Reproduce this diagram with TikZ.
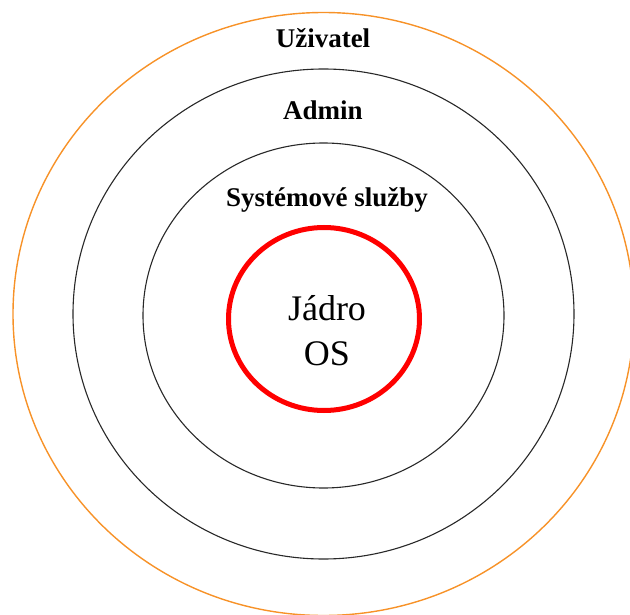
\documentclass[tikz,border=0pt]{standalone}
\usepackage{fontspec}
\setmainfont{Liberation Serif}
\definecolor{ringorange}{RGB}{247,146,40}
\definecolor{ringgray}{RGB}{40,40,40}
\begin{document}
\begin{tikzpicture}[x=1pt,y=-1pt,
  ring/.style={draw=ringgray,line width=1.1pt},
  layerlabel/.style={font=\fontsize{27}{30}\selectfont\bfseries,anchor=base,inner sep=0pt},
  corelabel/.style={font=\fontsize{36}{45}\selectfont,align=center,inner sep=0pt}]
\useasboundingbox (0,0) rectangle (630,615);
\clip (0,0) rectangle (630,615);
\coordinate (c) at (323.5,314);
\draw[draw=ringorange,line width=1.4pt] (c) ellipse [x radius=310.5pt,y radius=301.5pt];
\draw[ring] (c) ellipse [x radius=250.5pt,y radius=245pt];
\draw[ring] (323.5,315.5) ellipse [x radius=180.5pt,y radius=172.5pt];
\draw[draw=red,line width=5pt] (324,319) ellipse [x radius=95.5pt,y radius=91.5pt];
\node[layerlabel] (uziv) at (323,48) {Uživatel};
\node[layerlabel] (admin) at (323,120) {Admin};
\node[layerlabel] (sys) at (327,207) {Systémové služby};
\node[corelabel,anchor=base] (jadro) at (327,320) {Jádro};
\node[corelabel,anchor=base] (os) at (327,365) {OS};
\end{tikzpicture}
\end{document}
